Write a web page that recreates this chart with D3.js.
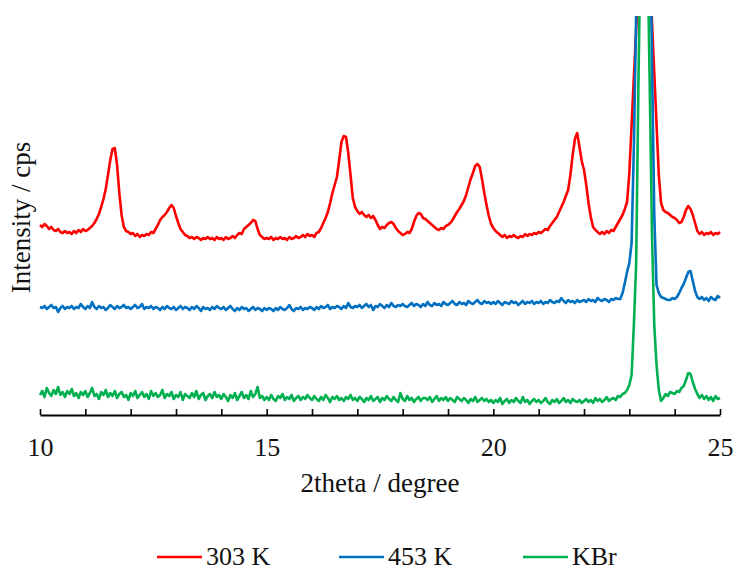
<!DOCTYPE html>
<html>
<head>
<meta charset="utf-8">
<script src="https://cdn.jsdelivr.net/npm/d3@7"></script>
<style>
  body { margin: 0; background: #fff; }
  svg { display: block; font-family: "Liberation Serif", "Times New Roman", serif; }
</style>
</head>
<body>
<div id="chart"></div>
<script>
// 2theta grid, 10 to 25 degree in 0.05 steps (301 points)
const twoTheta = d3.range(0, 301).map(i => Math.round((10 + i * 0.05) * 100) / 100);

// intensities (arbitrary units, curves already offset)
const int303 = [
  190, 188, 191, 189, 186, 188, 185, 184, 186, 183, 182, 184, 182, 183, 181, 184, 182, 185, 183, 186,
  184, 185, 187, 189, 192, 196, 201, 208, 216, 226, 240, 255, 266, 267, 250, 222, 200, 188, 184, 183,
  181, 182, 179, 181, 178, 180, 179, 181, 180, 183, 182, 186, 190, 195, 198, 200, 203, 207, 210, 207,
  199, 192, 186, 183, 180, 179, 177, 178, 176, 178, 177, 175, 177, 176, 178, 176, 177, 175, 178, 176,
  177, 175, 178, 176, 177, 179, 177, 180, 182, 181, 186, 188, 190, 192, 195, 194, 186, 180, 178, 176,
  177, 176, 178, 175, 177, 176, 178, 176, 177, 175, 178, 176, 177, 179, 177, 178, 180, 178, 181, 179,
  180, 178, 182, 183, 187, 192, 197, 203, 212, 222, 230, 238, 255, 273, 279, 278, 262, 240, 217, 208,
  204, 201, 203, 200, 198, 200, 197, 199, 195, 190, 186, 188, 187, 190, 192, 193, 191, 187, 184, 182,
  180, 181, 183, 182, 186, 193, 199, 202, 201, 197, 196, 194, 192, 190, 188, 186, 185, 187, 186, 189,
  190, 192, 195, 199, 203, 206, 210, 214, 220, 228, 236, 242, 249, 251, 248, 236, 222, 210, 199, 191,
  187, 184, 182, 180, 178, 180, 177, 179, 178, 180, 178, 177, 179, 178, 181, 179, 181, 180, 182, 181,
  183, 182, 184, 186, 185, 189, 192, 195, 198, 203, 208, 213, 219, 225, 240, 260, 276, 282, 268, 254,
  245, 230, 212, 198, 188, 185, 183, 181, 183, 181, 184, 182, 185, 184, 188, 192, 196, 200, 206, 213,
  242, 290, 338, 384, 432, 480, 529, 542, 493, 442, 393, 342, 291, 240, 212, 205, 203, 202, 200, 198,
  197, 195, 192, 193, 198, 205, 209, 206, 200, 192, 184, 181, 183, 180, 182, 181, 183, 180, 182, 181,
  183
];

const int453 = [
  108, 107, 109, 106, 108, 110, 107, 108, 103, 107, 109, 106, 108, 107, 109, 106, 108, 107, 111, 108,
  106, 109, 107, 113, 108, 106, 109, 107, 108, 105, 107, 110, 108, 106, 109, 107, 108, 110, 107, 108,
  106, 108, 110, 107, 108, 111, 106, 108, 107, 109, 106, 108, 107, 105, 108, 106, 109, 107, 106, 108,
  105, 107, 109, 106, 108, 107, 105, 108, 106, 109, 107, 104, 108, 106, 107, 105, 108, 106, 109, 107,
  106, 108, 105, 107, 109, 106, 104, 107, 105, 108, 106, 107, 104, 106, 108, 105, 107, 106, 104, 107,
  105, 107, 106, 104, 107, 105, 108, 106, 105, 107, 110, 106, 104, 107, 106, 108, 105, 107, 106, 108,
  107, 105, 108, 106, 109, 107, 108, 110, 106, 108, 107, 109, 108, 106, 109, 107, 112, 108, 107, 109,
  108, 110, 107, 109, 111, 108, 110, 105, 109, 108, 111, 109, 107, 110, 108, 112, 109, 108, 110, 109,
  111, 109, 108, 110, 112, 109, 111, 110, 108, 111, 109, 113, 110, 109, 112, 110, 111, 109, 113, 111,
  110, 112, 114, 111, 110, 113, 111, 112, 110, 114, 112, 111, 113, 115, 112, 111, 114, 112, 113, 111,
  113, 111, 114, 112, 110, 113, 112, 111, 114, 112, 113, 110, 112, 114, 111, 113, 112, 114, 111, 113,
  112, 114, 111, 113, 112, 115, 113, 112, 114, 113, 117, 114, 112, 115, 113, 114, 112, 115, 113, 114,
  115, 113, 116, 114, 115, 113, 117, 115, 114, 116, 115, 113, 116, 115, 117, 116, 116, 122, 132, 143,
  152, 172, 268, 400, 537, 674, 811, 842, 681, 514, 353, 200, 130, 122, 118, 117, 116, 115, 115, 117,
  116, 118, 122, 127, 131, 137, 143, 144, 134, 124, 118, 116, 118, 115, 117, 114, 118, 116, 115, 119,
  117
];

const intKBr = [
  20, 24, 18, 27, 22, 19, 25, 21, 28, 20, 23, 18, 24, 21, 26, 19, 22, 17, 23, 20,
  24, 18, 22, 27, 19, 21, 16, 23, 20, 25, 18, 22, 19, 24, 17, 21, 23, 18, 20, 15,
  22, 19, 24, 17, 20, 23, 18, 21, 16, 24, 19, 22, 18, 20, 25, 17, 21, 19, 23, 16,
  20, 18, 23, 15, 21, 19, 17, 22, 18, 24, 16, 20, 22, 15, 19, 21, 17, 23, 18, 20,
  16, 21, 18, 14, 20, 17, 22, 15, 19, 23, 17, 20, 16, 24, 18, 21, 28, 17, 19, 15,
  18, 15, 20, 16, 14, 19, 17, 21, 15, 18, 16, 20, 14, 17, 19, 15, 18, 16, 20, 17,
  15, 19, 16, 14, 18, 15, 20, 17, 13, 18, 16, 19, 15, 17, 14, 18, 16, 20, 15, 17,
  14, 18, 16, 13, 17, 15, 19, 14, 16, 18, 13, 17, 15, 19, 16, 14, 18, 15, 13, 22,
  16, 14, 19, 15, 17, 13, 16, 18, 14, 17, 17, 15, 18, 13, 16, 19, 14, 17, 15, 18,
  14, 17, 15, 13, 18, 16, 14, 17, 15, 12, 16, 14, 18, 13, 15, 17, 14, 16, 13, 15,
  12, 15, 13, 17, 11, 14, 16, 12, 15, 13, 17, 14, 12, 18, 13, 15, 11, 14, 16, 13,
  15, 12, 14, 17, 13, 11, 15, 13, 16, 12, 14, 17, 13, 15, 12, 16, 14, 13, 15, 12,
  14, 16, 13, 15, 12, 17, 14, 16, 13, 15, 18, 14, 16, 17, 15, 19, 18, 21, 22, 25,
  30, 40, 90, 150, 330, 480, 600, 620, 470, 330, 180, 90, 50, 25, 14, 17, 21, 19, 23, 22,
  21, 24, 23, 27, 29, 35, 42, 41, 33, 26, 21, 17, 20, 16, 19, 15, 18, 14, 19, 16,
  17
];

const seriesNames = ["303 K", "453 K", "KBr"];
const seriesColors = ["#ff0000", "#0070c0", "#00b050"];
const seriesValues = [int303, int453, intKBr];

const xTicks = d3.range(10, 26, 1);
const xLabels = [10, 15, 20, 25];

const width = 735, height = 571;
const plot = { left: 40, right: 720, top: 16, bottom: 415 };

const svg = d3.select("#chart").append("svg")
  .attr("width", width)
  .attr("height", height);

const x = d3.scaleLinear().domain([10, 25]).range([plot.left, plot.right]);
const y = d3.scaleLinear().domain([0, 399]).range([plot.bottom, plot.top]);

svg.append("clipPath")
  .attr("id", "plot-clip")
  .append("rect")
  .attr("x", plot.left - 5)
  .attr("y", plot.top)
  .attr("width", plot.right - plot.left + 10)
  .attr("height", plot.bottom - plot.top + 5);

const line = d3.line()
  .x((d, i) => x(twoTheta[i]))
  .y(d => y(d));

svg.append("g")
  .attr("clip-path", "url(#plot-clip)")
  .selectAll("path")
  .data(seriesValues)
  .enter()
  .append("path")
  .attr("d", d => line(d))
  .attr("fill", "none")
  .attr("stroke", (d, i) => seriesColors[i])
  .attr("stroke-width", 2.6)
  .attr("stroke-linejoin", "round");

// x axis, ticks pointing up into the plot
const xAxis = svg.append("g")
  .attr("transform", `translate(0,${plot.bottom})`)
  .call(d3.axisBottom(x)
    .tickValues(xTicks)
    .tickSizeInner(-6)
    .tickSizeOuter(0)
    .tickPadding(23)
    .tickFormat(d => xLabels.includes(d) ? d : ""));

xAxis.select(".domain").attr("stroke", "#000").attr("stroke-width", 2);
xAxis.selectAll(".tick line").attr("stroke", "#000").attr("stroke-width", 1.6);
xAxis.selectAll(".tick text")
  .attr("fill", "#111")
  .style("font-family", "'Liberation Serif', serif")
  .style("font-size", "26px");

svg.append("text")
  .attr("x", (plot.left + plot.right) / 2)
  .attr("y", 492)
  .attr("text-anchor", "middle")
  .attr("fill", "#111")
  .style("font-size", "27px")
  .text("2theta / degree");

svg.append("text")
  .attr("transform", `translate(30,${(plot.top + plot.bottom) / 2 + 2}) rotate(-90)`)
  .attr("text-anchor", "middle")
  .attr("fill", "#111")
  .style("font-size", "27px")
  .text("Intensity / cps");

// legend
const legendX = [157, 339, 523];
const legend = svg.append("g")
  .selectAll("g")
  .data(seriesNames)
  .enter()
  .append("g")
  .attr("transform", (d, i) => `translate(${legendX[i]},557)`);

legend.append("line")
  .attr("x1", 0)
  .attr("x2", 45)
  .attr("stroke", (d, i) => seriesColors[i])
  .attr("stroke-width", 2.6);

legend.append("text")
  .attr("x", 49)
  .attr("y", 8)
  .attr("fill", "#111")
  .style("font-size", "26px")
  .text(d => d);
</script>
</body>
</html>
